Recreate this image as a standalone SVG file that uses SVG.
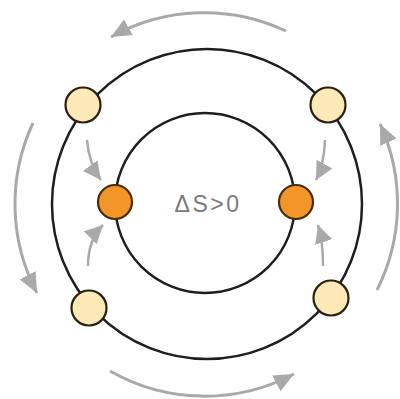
<svg xmlns="http://www.w3.org/2000/svg" width="400" height="399" viewBox="0 0 400 399">
<style>
.ring{fill:none;stroke:#1e1e1e;stroke-width:2.5}
.pos{fill:#fde8b8;stroke:#2b2010;stroke-width:2.2}
.core{fill:#f3962a;stroke:#4a2c08;stroke-width:2.2}
.big{fill:none;stroke:#a9a9a9;stroke-width:3;marker-end:url(#ah)}
.small{fill:none;stroke:#a9a9a9;stroke-width:2.5;marker-end:url(#as)}
.lbl{font-family:"Liberation Sans",Arial,sans-serif;font-size:23px;fill:#7a7a7a;letter-spacing:2.5px}
</style>
<defs>
<marker id="ah" markerUnits="userSpaceOnUse" markerWidth="22" markerHeight="18" refX="20" refY="9" orient="auto">
<path d="M0,0 L20,9 L0,18 z" fill="#a9a9a9"/>
</marker>
<marker id="as" markerUnits="userSpaceOnUse" markerWidth="20" markerHeight="18" refX="18" refY="9" orient="auto">
<path d="M0,0 L18,9 L0,18 z" fill="#a9a9a9"/>
</marker>
</defs>
<rect width="400" height="399" fill="#ffffff"/>
<g id="outer-ring"><circle class="ring" cx="207" cy="204" r="155"/></g>
<g id="inner-ring"><circle class="ring" cx="205" cy="203" r="90"/></g>
<g id="connectors">
<path class="big" d="M286,31 A191,191 0 0 0 111,37"/>
<path class="big" d="M33,123 A191,191 0 0 0 37,293"/>
<path class="big" d="M110,371 A191,191 0 0 0 294,374"/>
<path class="big" d="M377,290 A191,191 0 0 0 380,124"/>
<path class="small" d="M87,140 Q89,164 101,180"/>
<path class="small" d="M325,140 Q324,165 316,180"/>
<path class="small" d="M88,266 Q88,240 103,225"/>
<path class="small" d="M323,266 Q323,240 318,225"/>
</g>
<g id="node-tl"><circle class="pos" cx="83" cy="105" r="17.5"/></g>
<g id="node-tr"><circle class="pos" cx="328" cy="105" r="17.5"/></g>
<g id="node-bl"><circle class="pos" cx="89" cy="308" r="17.5"/></g>
<g id="node-br"><circle class="pos" cx="331" cy="298" r="17.5"/></g>
<g id="node-l"><circle class="core" cx="115" cy="202" r="17"/></g>
<g id="node-r"><circle class="core" cx="296" cy="202" r="17"/></g>
<g id="label"><text class="lbl" x="208" y="212" text-anchor="middle">ΔS&gt;0</text></g>
</svg>
